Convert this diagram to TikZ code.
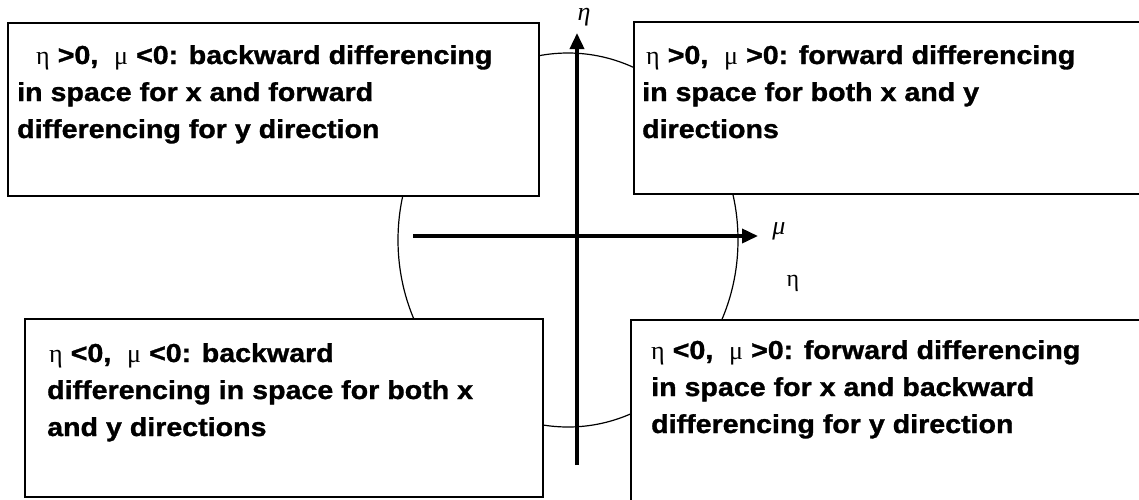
\documentclass[tikz,border=0pt]{standalone}
\usepackage{fontspec}
\usetikzlibrary{arrows.meta}
\newfontfamily\boxfont[FakeStretch=1.1, BoldFeatures={FakeBold=1.2}]{Liberation Sans}
\newfontfamily\grkfont{Liberation Serif}
\newcommand\gr[1]{{\grkfont\mdseries #1}}
\begin{document}
\begin{tikzpicture}[x=1pt,y=-1pt,
  box/.style={draw, line width=1.4pt, fill=white, inner sep=0pt, outer sep=0pt, anchor=north west},
  boxtext/.style={anchor=base west, align=left, inner sep=0pt, font=\boxfont\bfseries\fontsize{26}{37}\selectfont},
  axis/.style={line width=3.6pt, -{Triangle[length=16pt,width=14pt]}},
  ring/.style={line width=1.2pt},
  axlabel/.style={inner sep=0pt, font=\grkfont\itshape\fontsize{26}{26}\selectfont},
  glabel/.style={inner sep=0pt, font=\grkfont\fontsize{24}{24}\selectfont}]
\useasboundingbox (0,0) rectangle (1139,499);
\clip (0,0) rectangle (1139,499);
\fill[white] (0,0) rectangle (1139,499);
\draw[ring] (568,240) ellipse [x radius=170, y radius=187];
\node[box, minimum width=531pt, minimum height=173pt] (tl) at (8,23) {};
\node[box, minimum width=520pt, minimum height=172pt] (tr) at (634,22) {};
\node[box, minimum width=518pt, minimum height=178pt] (bl) at (25,319) {};
\node[box, minimum width=520pt, minimum height=190pt] (br) at (631,320) {};
% base anchor = baseline of the last line
\node[boxtext] (tltext) at (17,138) {\kern19pt\gr{η} >0,\ \ \gr{μ} <0: backward differencing\\in space for x and forward\\differencing for y direction};
\node[boxtext] (trtext) at (642,138) {\kern4pt\gr{η} >0,\ \ \gr{μ} >0: forward differencing\\in space for both x and y\\directions};
\node[boxtext] (bltext) at (47,436) {\kern2pt\gr{η} <0,\ \ \gr{μ} <0: backward\\differencing in space for both x\\and y directions};
\node[boxtext] (brtext) at (651,433) {\gr{η} <0,\ \ \gr{μ} >0: forward differencing\\in space for x and backward\\differencing for y direction};
\coordinate (vb) at (577,465);
\coordinate (vt) at (577,33);
\coordinate (hl) at (413,236);
\coordinate (hr) at (758,236);
\draw[axis] (vb) -- (vt);
\draw[axis] (hl) -- (hr);
\node[axlabel] (etaax) at (584,17) {η};
\node[axlabel] (muax) at (779,231) {μ};
\node[glabel] (etastray) at (793,283) {η};
\end{tikzpicture}
\end{document}
